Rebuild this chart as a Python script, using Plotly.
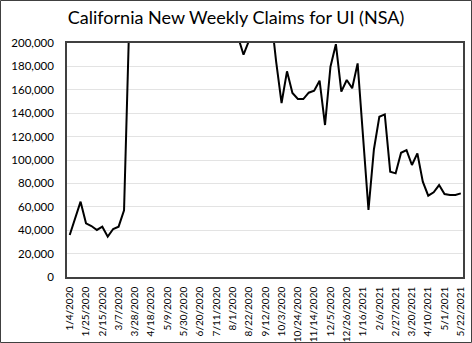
import pandas as pd
import plotly.graph_objects as go

# Weekly dates (week ending), 1/4/2020 .. 5/22/2021
weeks = [f"{d.month}/{d.day}/{d.year}" for d in pd.date_range("2020-01-04", "2021-05-22", freq="7D")]

# New weekly claims (NSA); values above 200,000 are off the chart's axis
claims = [
    35900, 50000, 64400, 45900, 43600, 40200, 43000, 34500, 41000, 43000,   # w0-9
    57000, 225000, 878000, 925000, 661000, 534000, 328000, 318000, 245000, 238000,  # w10-19
    221000, 247000, 259000, 275000, 283000, 287000, 295000, 286000, 280000, 245000,  # w20-29
    232000, 205000, 190000, 202000, 230000, 240000, 235000, 226000, 184000, 148700,  # w30-39
    175800, 157300, 152100, 152100, 157500, 159200, 167800, 129900, 179700, 199000,  # w40-49
    158400, 168400, 161300, 182600, 120000, 57300, 109000, 137000, 139000, 90000,    # w50-59
    88600, 106200, 108500, 95700, 105700, 81500, 69500, 72400, 78600, 70900,         # w60-69
    70100, 70100, 71500,                                                              # w70-72
]

tick_labels = weeks[::3]
y_ticks = list(range(0, 200001, 20000))

fig = go.Figure()
fig.add_trace(go.Scatter(
    x=list(range(len(weeks))), y=claims, mode="lines",
    line=dict(color="#000000", width=2), hoverinfo="skip",
))

font_family = "Lato, 'Open Sans', sans-serif"
fig.update_layout(
    width=472, height=343,
    margin=dict(l=67, r=9, t=43, b=66),
    paper_bgcolor="white", plot_bgcolor="white",
    showlegend=False,
    title=dict(text="California New Weekly Claims for UI (NSA)", x=0.5, xanchor="center",
               y=1 - 18 / 343, yanchor="middle",
               font=dict(family=font_family, size=18, color="#000000")),
    xaxis=dict(
        range=[-0.5, len(weeks) - 1 + 0.4],
        tickmode="array", tickvals=list(range(0, len(weeks), 3)), ticktext=tick_labels,
        tickangle=-90, showgrid=False, zeroline=False, automargin=False,
        showline=True, linecolor="#404040", linewidth=1.5, mirror=True,
        ticks="", ticklabelstandoff=4,
        tickfont=dict(family=font_family, size=10, color="#000000"),
    ),
    yaxis=dict(
        range=[0, 200000], tickvals=y_ticks, automargin=False,
        ticktext=[f"{v:,}" for v in y_ticks],
        showgrid=True, gridcolor="#e3e3e3", gridwidth=1, zeroline=False,
        showline=True, linecolor="#404040", linewidth=1.5, mirror=True,
        ticks="", ticklabelstandoff=9,
        tickfont=dict(family=font_family, size=11.5, color="#000000"),
    ),
)

# outer chart border
fig.add_shape(type="rect", xref="paper", yref="paper",
              x0=(0.5 - 67) / 396, x1=(471.5 - 67) / 396,
              y0=(277 - 342.5) / 234, y1=(277 - 0.5) / 234,
              line=dict(color="#404040", width=1))

fig.write_html("out.html")
